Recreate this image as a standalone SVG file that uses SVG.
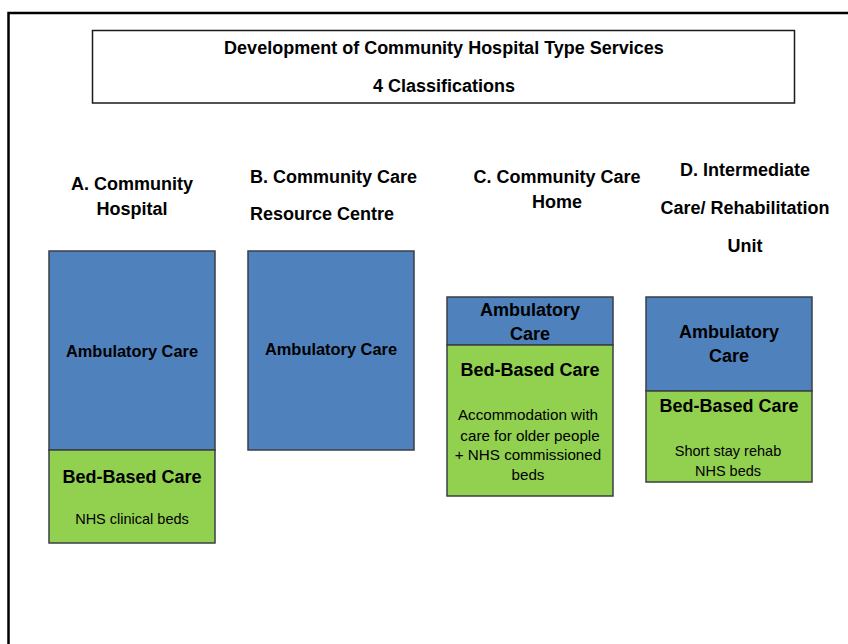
<svg xmlns="http://www.w3.org/2000/svg" width="848" height="644" viewBox="0 0 848 644">
<style>
.frame{fill:none;stroke:#000;stroke-width:2.5}
.title{fill:#fff;stroke:#1a1a1a;stroke-width:1.5}
.amb{fill:#4f81bd;stroke:#3a3f47;stroke-width:1.5}
.bed{fill:#92d050;stroke:#3a3f47;stroke-width:1.5}
text{font-family:"Liberation Sans",Arial,sans-serif;fill:#000;text-anchor:middle}
.h{font-size:18px;font-weight:bold}
.t{font-size:18px;font-weight:bold}
.l16{font-size:16.4px;font-weight:bold}
.l18{font-size:18px;font-weight:bold}
.b{font-size:14.5px}
.bc{font-size:15.2px}
</style>
<rect width="848" height="644" fill="#fff"/>
<g id="frame"><path class="frame" d="M8.5 644 V13 H848"/></g>
<g id="title">
<rect class="title" x="92.5" y="30.5" width="702" height="72.5"/>
<text class="t" x="444" y="54">Development of Community Hospital Type Services</text>
<text class="t" x="444" y="92">4 Classifications</text>
</g>
<g id="heading-a">
<text class="h" x="132" y="190">A. Community</text>
<text class="h" x="132" y="215">Hospital</text>
</g>
<g id="heading-b">
<text class="h" x="250" y="183" style="text-anchor:start">B. Community Care</text>
<text class="h" x="250" y="220" style="text-anchor:start">Resource Centre</text>
</g>
<g id="heading-c">
<text class="h" x="557" y="183">C. Community Care</text>
<text class="h" x="557" y="208">Home</text>
</g>
<g id="heading-d">
<text class="h" x="745" y="176">D. Intermediate</text>
<text class="h" x="745" y="214">Care/ Rehabilitation</text>
<text class="h" x="745" y="252">Unit</text>
</g>
<g id="node-a">
<rect class="amb" x="49" y="251" width="166" height="199"/>
<rect class="bed" x="49" y="450" width="166" height="93"/>
<text class="l16" x="132" y="357">Ambulatory Care</text>
<text class="l18" x="132" y="483">Bed-Based Care</text>
<text class="b" x="132" y="524">NHS clinical beds</text>
</g>
<g id="node-b">
<rect class="amb" x="248" y="251" width="166" height="199"/>
<text class="l16" x="331" y="355">Ambulatory Care</text>
</g>
<g id="node-c">
<rect class="amb" x="447" y="297" width="166" height="48"/>
<rect class="bed" x="447" y="345" width="166" height="151"/>
<text class="l18" x="530" y="316">Ambulatory</text>
<text class="l18" x="530" y="340">Care</text>
<text class="l18" x="530" y="376">Bed-Based Care</text>
<text class="bc" x="528" y="420">Accommodation with</text>
<text class="bc" x="530" y="441">care for older people</text>
<text class="bc" x="528" y="460">+ NHS commissioned</text>
<text class="bc" x="528" y="480">beds</text>
</g>
<g id="node-d">
<rect class="amb" x="646" y="297" width="166" height="94"/>
<rect class="bed" x="646" y="391" width="166" height="91"/>
<text class="l18" x="729" y="338">Ambulatory</text>
<text class="l18" x="729" y="362">Care</text>
<text class="l18" x="729" y="412">Bed-Based Care</text>
<text class="b" x="728" y="456">Short stay rehab</text>
<text class="b" x="728" y="476">NHS beds</text>
</g>
<g id="connectors"/>
</svg>
